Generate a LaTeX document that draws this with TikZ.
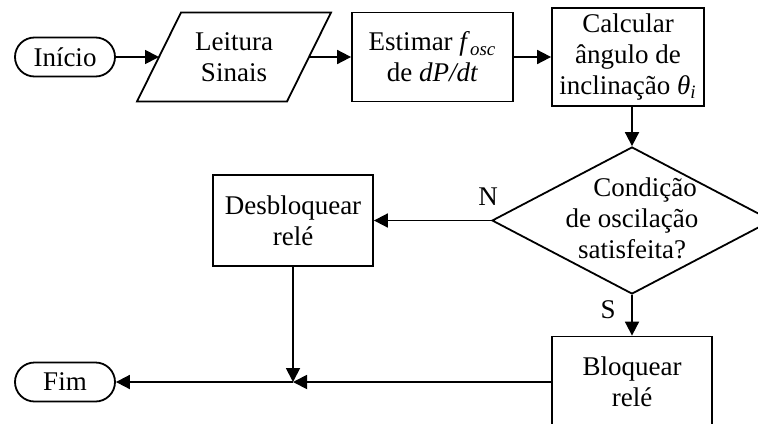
\documentclass[tikz,border=0pt]{standalone}
\usepackage{fontspec}
\setmainfont{Liberation Serif}
\usetikzlibrary{arrows.meta,shapes.geometric,shapes.misc}

\begin{document}
\begin{tikzpicture}[x=0.5pt,y=-0.5pt,line width=0.9pt,
  font=\fontsize{13.5}{15.5}\selectfont,
  terminal/.style={draw,rounded rectangle,minimum width=50pt,minimum height=19.5pt,inner sep=0pt},
  entrada/.style={minimum width=75pt,minimum height=44.5pt,inner sep=0pt,outer sep=0pt,align=center},
  caixa/.style={draw,minimum width=80pt,minimum height=45.5pt,inner sep=0pt,align=center},
  decisao/.style={draw,diamond,minimum width=140pt,minimum height=73.5pt,inner sep=0pt},
  seta/.style={-{Triangle[length=7pt,width=7pt]}}]

\clip (0,0) rectangle (758,423);

% linha de cima
\node[terminal] (ini) at (65,57) {Início};
\node[entrada] (lei) at (234,57) {Leitura\\Sinais};
\draw ([xshift=11pt]lei.north west) -- ([xshift=11pt]lei.north east)
  -- ([xshift=-11pt]lei.south east) -- ([xshift=-11pt]lei.south west) -- cycle;
\node[caixa,minimum width=80.5pt,minimum height=44.5pt] (est) at (432.5,57)
  {Estimar \textit{f}\textsubscript{\textit{osc}}\\de \textit{dP/dt}};
\node[caixa,minimum width=76pt,minimum height=49pt] (calc) at (628,57)
  {Calcular\\ângulo de\\inclinação \textit{θ}\textsubscript{\textit{i}}};

% decisao e ramos
\node[decisao] (dec) at (632,220.5) {};
\node[align=center,inner sep=0pt] (dectxt) at (632,218)
  {\hspace*{13pt}Condição\\de oscilação\\satisfeita?};
\node[caixa] (desb) at (293,220.5) {Desbloquear\\relé};
\node[caixa] (bloq) at (632,382) {Bloquear\\relé};
\node[terminal] (fim) at (65,382) {Fim};
\coordinate (junta) at (293,382);

\node (rotN) at (488,197) {N};
\node (rotS) at (608,310) {S};

\draw[seta] (ini) -- (lei);
\draw[seta] (lei) -- (est);
\draw[seta] (est) -- (calc);
\draw[seta] (dec.north |- calc.south) -- (dec.north);
\draw[seta] (dec.west) -- (desb);
\draw[seta] (dec.south) -- (bloq);
\draw[seta] (desb) -- (junta);
\draw[seta] (bloq) -- (junta);
\draw[seta] (junta) -- (fim);
\end{tikzpicture}
\end{document}
